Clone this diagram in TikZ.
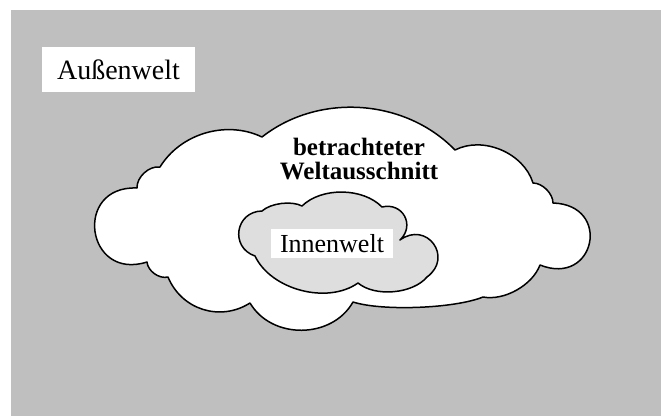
\documentclass[tikz,border=0pt]{standalone}
\usepackage{fontspec}
\setmainfont{Liberation Serif}
\usepackage{xcolor}
\definecolor{umwelt}{gray}{0.75}
\definecolor{innenfill}{gray}{0.87}
\tikzset{%
  % areas
  world/.style={fill=umwelt},
  cloud/.style={draw, line width=1.5pt, line join=round},
  outer/.style={cloud, fill=white},
  inner/.style={cloud, fill=innenfill},
  puff/.style 2 args={bend left=#1, looseness=#2},
  % labels
  tag/.style={fill=white, inner sep=0pt, font=\fontsize{26}{28}\selectfont},
  title/.style={align=center, font=\fontsize{25}{23.5}\selectfont\bfseries},
}

\begin{document}
\begin{tikzpicture}[x=1pt, y=1pt]
  \useasboundingbox (0,0) rectangle (661,416);
  % outside world
  \path[world] (11,0) rectangle (661,406);

  % outer cloud (cusps, clockwise)
  \coordinate (o1) at (147,154);
  \coordinate (o2) at (137,228);
  \coordinate (o3) at (160,249);
  \coordinate (o4) at (262,279);
  \coordinate (o5) at (455,266);
  \coordinate (o6) at (533,233);
  \coordinate (o7) at (553,213);
  \coordinate (o8) at (540,151);
  \coordinate (o9) at (483,119);
  \coordinate (o10) at (353,114);
  \coordinate (o11) at (250,113);
  \coordinate (o12) at (168,139);
  \path[outer] (o1) to[puff={100}{2.2}] (o2) to[puff={50}{0.9}] (o3)
    to[puff={42}{0.95}] (o4) to[puff={42}{0.95}] (o5)
    to[puff={50}{0.95}] (o6) to[puff={45}{0.85}] (o7)
    to[puff={100}{2.4}] (o8) to[puff={40}{0.85}] (o9)
    to[puff={20}{0.6}] (o10) to[puff={60}{1.06}] (o11)
    to[puff={50}{1.05}] (o12) to[puff={50}{0.9}] (o1) -- cycle;

  % inner cloud
  \coordinate (i1) at (255,160);
  \coordinate (i2) at (262,205);
  \coordinate (i3) at (302,210);
  \coordinate (i4) at (382,209);
  \coordinate (i5) at (400,176);
  \coordinate (i6) at (427,139);
  \coordinate (i7) at (358,133);
  \path[inner] (i1) to[puff={80}{1.5}] (i2) to[puff={35}{0.75}] (i3)
    to[puff={45}{0.87}] (i4) to[puff={75}{1.45}] (i5)
    to[puff={90}{1.85}] (i6) to[puff={45}{0.82}] (i7)
    to[puff={50}{0.9}] (i1) -- cycle;

  % labels
  \node[tag, minimum width=153pt, minimum height=45pt,
        font=\fontsize{28}{30}\selectfont] (aussen) at (118.5,346.5) {Außenwelt};
  \node[title] (ausschnitt) at (359,257) {betrachteter\\Weltausschnitt};
  \node[tag, minimum width=122pt, minimum height=29pt] (innen) at (332,172.5) {Innenwelt};
\end{tikzpicture}
\end{document}
